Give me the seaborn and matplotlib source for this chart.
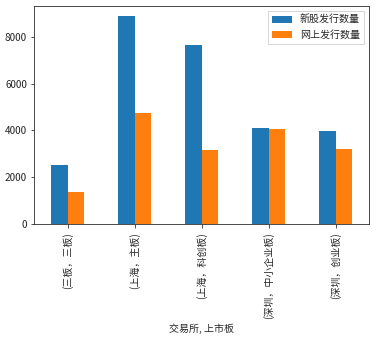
import matplotlib
matplotlib.use("Agg")
import matplotlib.pyplot as plt
import seaborn as sns
import pandas as pd

# Exchange / listing board pairs
exchanges = ["三板", "上海", "上海", "深圳", "深圳"]
boards = ["三板", "主板", "科创板", "中小企业板", "创业板"]

# Issuance counts per board
new_issues = [2530, 8880, 7670, 4110, 3980]
online_issues = [1370, 4750, 3170, 4070, 3210]

series_names = ["新股发行数量", "网上发行数量"]
colors = ["#1f77b4", "#ff7f0e"]

labels = [f"({e}，{b})" for e, b in zip(exchanges, boards)]
df = pd.DataFrame({
    "group": labels * 2,
    "value": new_issues + online_issues,
    "series": [series_names[0]] * len(labels) + [series_names[1]] * len(labels),
})

sns.set_style("ticks")
plt.rcParams["font.family"] = ["Noto Sans CJK SC", "DejaVu Sans"]
plt.rcParams["axes.unicode_minus"] = False
plt.rcParams["axes.edgecolor"] = "#222222"

fig = plt.figure(figsize=(376 / 72, 342 / 72), dpi=72)
ax = fig.add_axes([34 / 376, 1 - 224 / 342, (369 - 34) / 376, (224 - 6) / 342])

sns.barplot(data=df, x="group", y="value", hue="series", order=labels,
            hue_order=series_names, palette=colors, width=0.5,
            saturation=1, ax=ax, errorbar=None, linewidth=0)

ax.set_xlim(-0.5, len(labels) - 0.5)
ax.set_ylim(0, max(new_issues) * 1.05)
ax.set_yticks([0, 2000, 4000, 6000, 8000])
ax.tick_params(axis="x", rotation=90, labelsize=10, pad=5)
ax.tick_params(axis="y", labelsize=10)
ax.set_xlabel("交易所, 上市板", fontsize=10)
ax.set_ylabel("")
for side in ["top", "right", "left", "bottom"]:
    ax.spines[side].set_visible(True)

ax.legend(loc="upper right", fontsize=10, title=None, frameon=True,
          fancybox=False, edgecolor="#cccccc")

fig.savefig("out.png", dpi=72)
